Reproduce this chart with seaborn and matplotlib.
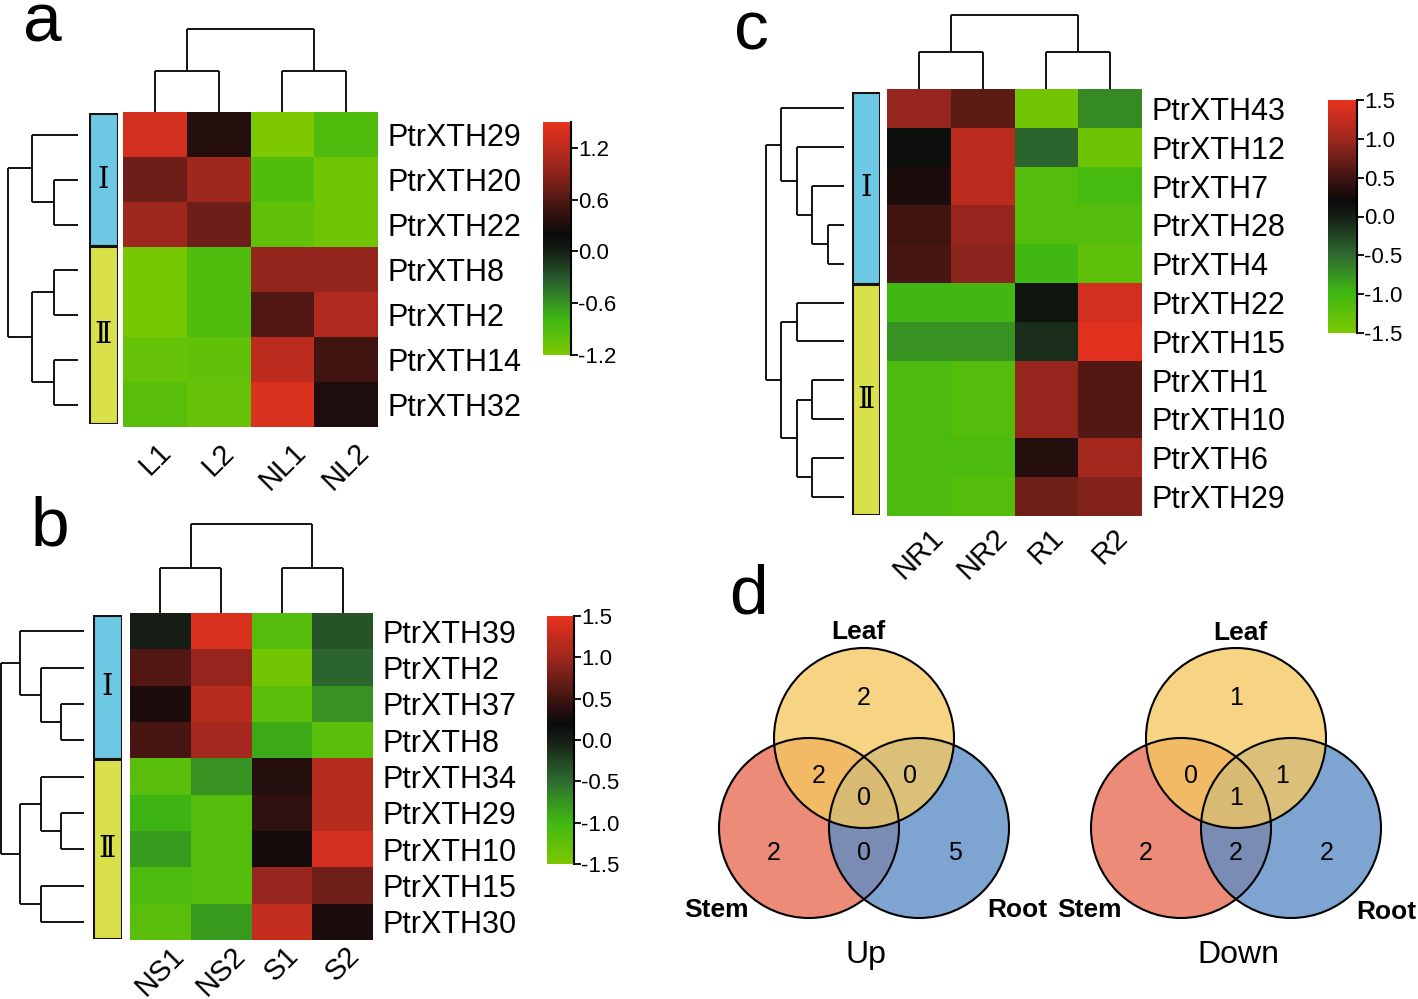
import numpy as np
import pandas as pd
import seaborn as sns
import matplotlib
matplotlib.use("Agg")
import matplotlib.pyplot as plt
from matplotlib.colors import LinearSegmentedColormap
from matplotlib.patches import Circle
from matplotlib.ticker import FormatStrFormatter

#***************** Data ************************

genes_a = ["PtrXTH29", "PtrXTH20", "PtrXTH22", "PtrXTH8", "PtrXTH2", "PtrXTH14", "PtrXTH32"]
samples_a = ["L1", "L2", "NL1", "NL2"]
values_a = [[1.35, 0.35, -1.2, -0.9],
            [0.75, 1.0, -0.9, -1.1],
            [1.0, 0.75, -1.0, -1.1],
            [-1.15, -0.9, 0.95, 0.95],
            [-1.15, -0.9, 0.6, 1.1],
            [-1.05, -1.0, 1.2, 0.5],
            [-0.95, -1.05, 1.4, 0.3]]
groups_a = [3, 4]
row_tree_a = (70, (46, 0, (24, 1, 2)), (46, (24, 3, 4), (24, 5, 6)))
col_tree_a = (83, (41, 0, 1), (41, 2, 3))
cbar_ticks_a = [-1.2, -0.6, 0.0, 0.6, 1.2]

genes_b = ["PtrXTH39", "PtrXTH2", "PtrXTH37", "PtrXTH8", "PtrXTH34",
           "PtrXTH29", "PtrXTH10", "PtrXTH15", "PtrXTH30"]
samples_b = ["NS1", "NS2", "S1", "S2"]
values_b = [[0.0, 1.4, -1.15, -0.35],
            [0.6, 0.95, -1.4, -0.45],
            [0.3, 1.15, -1.2, -0.75],
            [0.55, 1.05, -0.9, -1.2],
            [-1.2, -0.75, 0.35, 1.15],
            [-0.95, -1.15, 0.4, 1.15],
            [-0.8, -1.15, 0.25, 1.35],
            [-1.1, -1.15, 0.95, 0.75],
            [-1.2, -0.8, 1.25, 0.3]]
groups_b = [4, 5]
row_tree_b = (83, (64, 0, (43, 1, (23, 2, 3))), (64, (43, 4, (23, 5, 6)), (43, 7, 8)))
col_tree_b = (89, (45, 0, 1), (45, 2, 3))
cbar_ticks_b = [-1.5, -1.0, -0.5, 0.0, 0.5, 1.0, 1.5]

genes_c = ["PtrXTH43", "PtrXTH12", "PtrXTH7", "PtrXTH28", "PtrXTH4", "PtrXTH22",
           "PtrXTH15", "PtrXTH1", "PtrXTH10", "PtrXTH6", "PtrXTH29"]
samples_c = ["NR1", "NR2", "R1", "R2"]
values_c = [[0.95, 0.65, -1.4, -0.7],
            [0.15, 1.2, -0.45, -1.35],
            [0.3, 1.2, -1.15, -1.05],
            [0.5, 0.95, -1.15, -1.15],
            [0.55, 0.9, -1.0, -1.25],
            [-1.0, -1.0, 0.1, 1.35],
            [-0.75, -0.75, -0.1, 1.45],
            [-1.1, -1.15, 0.95, 0.6],
            [-1.1, -1.15, 0.95, 0.6],
            [-1.1, -1.1, 0.35, 1.05],
            [-1.1, -1.15, 0.75, 0.85]]
groups_c = [5, 6]
row_tree_c = (78, (63, 0, (47, 1, (32, 2, (16, 3, 4)))),
              (63, (47, 5, 6), (47, (32, 7, 8), (32, 9, 10))))
col_tree_c = (74, (37, 0, 1), (37, 2, 3))
cbar_ticks_c = [-1.5, -1.0, -0.5, 0.0, 0.5, 1.0, 1.5]

group_names = ["\u2160", "\u2161"]
group_colors = ["#6DC8E4", "#D9E04A"]

# venn counts: leaf only, leaf&stem, leaf&root, all, stem only, stem&root, root only
venn_up = [2, 2, 0, 0, 2, 0, 5]
venn_down = [1, 0, 1, 1, 2, 2, 2]
venn_sets = ["Leaf", "Stem", "Root"]
venn_colors = ["#F5C860", "#E66A52", "#5A8BC6"]

#***************** Layout helpers ************************

W, H = 1418, 999
fig = plt.figure(figsize=(W / 100, H / 100), dpi=100)
plt.rcParams['font.family'] = ['Liberation Sans', 'DejaVu Sans']


def ax_px(x0, y0, x1, y1):
    return fig.add_axes([x0 / W, 1 - y1 / H, (x1 - x0) / W, (y1 - y0) / H])


def make_cmap(vmin, vmax):
    # colour nodes given as fraction of the negative / positive half
    neg = [(1.0, "#7DC800"), (0.66, "#3FB812"), (0.33, "#2E6A30"), (0.0, "#151E15")]
    pos = [(0.13, "#0A0A0A"), (0.33, "#3E1411"), (0.66, "#9C271E"), (1.0, "#E8321E")]
    nodes = [((f * vmin - vmin) / (vmax - vmin), c) for f, c in neg]
    nodes += [((f * vmax - vmin) / (vmax - vmin), c) for f, c in pos]
    return LinearSegmentedColormap.from_list("gkr", nodes)


def draw_tree(ax, node, side):
    if isinstance(node, int):
        return node + 0.5, 0
    h, l, r = node
    pl, hl = draw_tree(ax, l, side)
    pr, hr = draw_tree(ax, r, side)
    kw = dict(color="black", lw=1.3, clip_on=False, solid_capstyle="butt")
    if side == "left":
        ax.plot([hl, h], [pl, pl], **kw)
        ax.plot([hr, h], [pr, pr], **kw)
        ax.plot([h, h], [pl, pr], **kw)
    else:
        ax.plot([pl, pl], [hl, h], **kw)
        ax.plot([pr, pr], [hr, h], **kw)
        ax.plot([pl, pr], [h, h], **kw)
    return (pl + pr) / 2, h


def heat_panel(box, values, genes, samples, vlim, ticks, cbar_box,
               row_tree, row_box, col_tree, col_box, groups, group_box, xpad):
    df = pd.DataFrame(values, index=genes, columns=samples)
    ax = ax_px(*box)
    cax = ax_px(*cbar_box)
    sns.heatmap(df, ax=ax, cbar_ax=cax, cmap=make_cmap(*vlim), vmin=vlim[0], vmax=vlim[1],
                cbar_kws={"ticks": ticks})
    ax.yaxis.tick_right()
    ax.set_yticklabels(genes, rotation=0, fontsize=22)
    ax.set_xticklabels(samples, rotation=45, ha="center", va="top", fontsize=21)
    ax.tick_params(length=0, pad=7)
    ax.tick_params(axis="x", pad=xpad)
    ax.set_xlabel("")
    ax.set_ylabel("")

    cb = ax.collections[0].colorbar
    cb.outline.set_visible(False)
    cax.yaxis.set_major_formatter(FormatStrFormatter("%.1f"))
    cax.tick_params(labelsize=16, length=5, width=1.3, pad=0)
    cax.plot([1, 1], [0, 1], transform=cax.transAxes, color="black", lw=1.5, clip_on=False)

    n = len(genes)
    rax = ax_px(*row_box)
    draw_tree(rax, row_tree, "left")
    rax.set_xlim(row_tree[0], 0)
    rax.set_ylim(n, 0)
    rax.axis("off")

    cax2 = ax_px(*col_box)
    draw_tree(cax2, col_tree, "top")
    cax2.set_xlim(0, len(samples))
    cax2.set_ylim(0, col_tree[0])
    cax2.axis("off")

    gax = ax_px(*group_box)
    starts = np.cumsum([0] + groups[:-1])
    gax.bar([0, 0], groups, bottom=starts, width=1, color=group_colors,
            edgecolor="#1a1010", linewidth=2.2, align="edge")
    for s, g, name in zip(starts, groups, group_names):
        gax.text(0.5, s + g / 2, name, ha="center", va="center", fontsize=21,
                 family=["DejaVu Serif", "DejaVu Sans"], fontweight="light")
    gax.set_xlim(0, 1)
    gax.set_ylim(n, 0)
    gax.axis("off")


heat_panel((123, 112, 378, 427), values_a, genes_a, samples_a, (-1.2, 1.5), cbar_ticks_a,
           (543, 122, 571, 355), row_tree_a, (8, 112, 78, 427), col_tree_a, (123, 29, 378, 112),
           groups_a, (89, 113, 118, 424), 8)
heat_panel((130, 613, 373, 940), values_b, genes_b, samples_b, (-1.5, 1.5), cbar_ticks_b,
           (547, 616, 574, 864), row_tree_b, (1, 613, 84, 940), col_tree_b, (130, 524, 373, 613),
           groups_b, (93, 615, 122, 939), 1)
heat_panel((887, 89, 1142, 516), values_c, genes_c, samples_c, (-1.5, 1.5), cbar_ticks_c,
           (1328, 100, 1357, 333), row_tree_c, (766, 89, 844, 516), col_tree_c, (887, 15, 1142, 89),
           groups_c, (852, 92, 880, 515), 5)

#***************** Venn ************************

vax = ax_px(660, 570, 1418, 999)
vax.set_xlim(660, 1418)
vax.set_ylim(999, 570)
vax.axis("off")

R = 90
offsets = [(0, -40), (-45, 38), (46, 38), (0, 60), (-90, 115), (0, 115), (91, 115)]


def venn(cx, counts, title, label_pos):
    centers = [(cx, 738), (cx - 55, 828), (cx + 55, 828)]
    for (x, y), c in zip([centers[1], centers[2], centers[0]],
                         [venn_colors[1], venn_colors[2], venn_colors[0]]):
        vax.add_patch(Circle((x, y), R, facecolor=c, alpha=0.78, edgecolor="none"))
    for x, y in centers:
        vax.add_patch(Circle((x, y), R, facecolor="none", edgecolor="black", lw=1.5))
    for (dx, dy), n in zip(offsets, counts):
        vax.text(cx + dx, 738 + dy, str(n), ha="center", va="center", fontsize=18)
    for name, (x, y) in zip(venn_sets, label_pos):
        vax.text(x, y, name, ha="center", va="center", fontsize=19, fontweight="bold")
    vax.text(cx + 2, 955, title, ha="center", va="center", fontsize=23)


venn(864, venn_up, "Up", [(858, 632), (716, 910), (1017, 910)])
venn(1236, venn_down, "Down", [(1240, 633), (1089, 910), (1386, 912)])

#***************** Panel letters ************************

for letter, x, y in [("a", 42, 42), ("b", 50, 545), ("c", 751, 50), ("d", 748, 613)]:
    fig.text(x / W, 1 - y / H, letter, ha="center", va="baseline", fontsize=50)

fig.savefig("out.png", dpi=100)
